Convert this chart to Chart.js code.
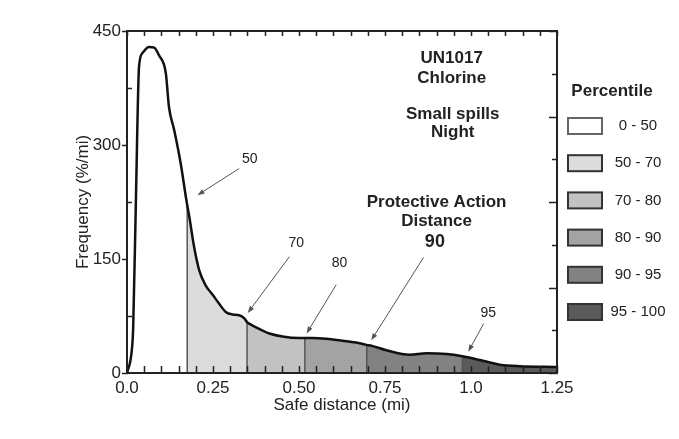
<!DOCTYPE html>
<html>
<head>
<meta charset="utf-8">
<script src="https://cdn.jsdelivr.net/npm/chart.js@4/dist/chart.umd.min.js"></script>
<style>
  body { margin: 0; background: #fff; }
  #wrap { width: 679px; height: 439px; }
</style>
</head>
<body>
<div id="wrap"><canvas id="freqChart" width="679" height="439"></canvas></div>
<script>
// distance (mi) and frequency (%/mi)
var curveX = [0, 0.013, 0.018, 0.026, 0.035, 0.045, 0.064, 0.079, 0.093, 0.113, 0.122, 0.137, 0.156, 0.171, 0.175,
    0.181, 0.195, 0.21, 0.229, 0.249, 0.268, 0.288, 0.307, 0.326, 0.341, 0.349, 0.355, 0.38, 0.414, 0.452, 0.501,
    0.517, 0.54, 0.579, 0.618, 0.666, 0.697, 0.71, 0.754, 0.822, 0.87, 0.929, 0.975, 1.026, 1.084, 1.142, 1.25];
var curveY = [0, 26, 60, 230, 403, 421, 429, 428, 418, 394, 350, 320, 276, 232, 221,
    206, 166, 135, 115, 103, 91, 80, 77, 76, 72, 67, 65, 59, 52, 48, 46,
    46, 46, 45, 43, 40, 37, 36, 30, 24, 26, 25, 22, 17, 11, 9, 8];

var percentileLabels = ["0 - 50", "50 - 70", "70 - 80", "80 - 90", "90 - 95", "95 - 100"];
var percentileBreaks = [0, 0.175, 0.349, 0.517, 0.697, 0.975, 1.25];
var bandColors = ["#ffffff", "#dcdcdc", "#c2c2c2", "#a3a3a3", "#828282", "#5a5a5a"];

var xTickLabels = ["0.0", "0.25", "0.50", "0.75", "1.0", "1.25"];

var FONT = "'Liberation Sans', Arial, sans-serif";
var TEXT = "#222";

// text notes and arrows, placed in data units (x in mi, y in %/mi)
var notes = [
    { text: "UN1017", x: 0.944, y: 414, bold: true, size: 17 },
    { text: "Chlorine", x: 0.944, y: 388, bold: true, size: 17 },
    { text: "Small spills", x: 0.947, y: 341, bold: true, size: 17 },
    { text: "Night", x: 0.947, y: 317, bold: true, size: 17 },
    { text: "Protective Action", x: 0.9, y: 224, bold: true, size: 17 },
    { text: "Distance", x: 0.9, y: 199, bold: true, size: 17 },
    { text: "90", x: 0.895, y: 172, bold: true, size: 18 },
    { text: "50", x: 0.357, y: 281, size: 14 },
    { text: "70", x: 0.492, y: 171, size: 14 },
    { text: "80", x: 0.618, y: 144, size: 14 },
    { text: "95", x: 1.05, y: 79, size: 14 }
];
var arrows = [
    [0.326, 269, 0.205, 234],
    [0.472, 153, 0.351, 79],
    [0.608, 116, 0.522, 52],
    [0.862, 152, 0.71, 43],
    [1.037, 65, 0.992, 28]
];

function pts(lo, hi) {
    var out = [];
    for (var i = 0; i < curveX.length; i++) {
        if (curveX[i] >= lo - 1e-9 && curveX[i] <= hi + 1e-9) out.push({ x: curveX[i], y: curveY[i] });
    }
    return out;
}

var datasets = [];
for (var b = 0; b < percentileLabels.length; b++) {
    datasets.push({
        label: percentileLabels[b],
        data: pts(percentileBreaks[b], percentileBreaks[b + 1]),
        backgroundColor: bandColors[b],
        borderWidth: 0,
        fill: "origin",
        pointRadius: 0,
        cubicInterpolationMode: "monotone",
        order: 3
    });
}
for (var k = 1; k < percentileBreaks.length - 1; k++) {
    var idx = curveX.indexOf(percentileBreaks[k]);
    datasets.push({
        label: "edge",
        data: [{ x: percentileBreaks[k], y: 0 }, { x: percentileBreaks[k], y: curveY[idx] }],
        borderColor: "#555",
        borderWidth: 1.5,
        fill: false,
        pointRadius: 0,
        order: 2
    });
}
datasets.push({
    label: "curve",
    data: pts(0, 1.25),
    borderColor: "#111",
    borderWidth: 2.5,
    fill: false,
    pointRadius: 0,
    cubicInterpolationMode: "monotone",
    order: 1
});

// frame with inward / outward tick marks
var framePlugin = {
    id: "frame",
    afterDatasetsDraw: function (chart) {
        var ctx = chart.ctx, a = chart.chartArea;
        var xs = chart.scales.x, ys = chart.scales.y;
        ctx.save();
        ctx.strokeStyle = "#222";
        ctx.lineWidth = 1.5;
        for (var i = 0; i <= 25; i++) {
            var px = Math.round(xs.getPixelForValue(i * 0.05)) + 0.5;
            ctx.beginPath();
            ctx.moveTo(px, a.bottom);
            ctx.lineTo(px, a.bottom - 7);
            ctx.moveTo(px, a.top);
            ctx.lineTo(px, a.top + 5);
            ctx.stroke();
        }
        for (var v = 0; v <= 450; v += 75) {
            var py = Math.round(ys.getPixelForValue(v)) + 0.5;
            ctx.beginPath();
            if (v % 150 === 0) {
                ctx.moveTo(a.left - 5, py);
                ctx.lineTo(a.left + 1, py);
            } else {
                ctx.moveTo(a.left, py);
                ctx.lineTo(a.left + 5, py);
            }
            ctx.stroke();
        }
        // right edge ticks
        for (var r = 0; r <= 8; r++) {
            var ry = Math.round(a.bottom - r * (a.bottom - a.top) / 8) + 0.5;
            ctx.beginPath();
            ctx.moveTo(a.right, ry);
            ctx.lineTo(a.right - (r % 2 === 0 ? 8 : 5), ry);
            ctx.stroke();
        }
        ctx.lineWidth = 2;
        ctx.strokeRect(a.left, a.top, a.right - a.left, a.bottom - a.top);
        ctx.restore();
    },
    afterDraw: function (chart) {
        var ctx = chart.ctx;
        var xs = chart.scales.x, ys = chart.scales.y;
        ctx.save();
        ctx.textAlign = "center";
        ctx.textBaseline = "middle";
        ctx.fillStyle = TEXT;
        notes.forEach(function (n) {
            ctx.font = (n.bold ? "bold " : "") + n.size + "px " + FONT;
            ctx.fillText(n.text, xs.getPixelForValue(n.x), ys.getPixelForValue(n.y));
        });
        ctx.strokeStyle = "#555";
        ctx.fillStyle = "#555";
        ctx.lineWidth = 1;
        arrows.forEach(function (ar) {
            var x1 = xs.getPixelForValue(ar[0]), y1 = ys.getPixelForValue(ar[1]);
            var x2 = xs.getPixelForValue(ar[2]), y2 = ys.getPixelForValue(ar[3]);
            var ang = Math.atan2(y2 - y1, x2 - x1);
            ctx.beginPath();
            ctx.moveTo(x1, y1);
            ctx.lineTo(x2 - 5 * Math.cos(ang), y2 - 5 * Math.sin(ang));
            ctx.stroke();
            ctx.beginPath();
            ctx.moveTo(x2, y2);
            ctx.lineTo(x2 - 7 * Math.cos(ang) + 2.6 * Math.sin(ang), y2 - 7 * Math.sin(ang) - 2.6 * Math.cos(ang));
            ctx.lineTo(x2 - 7 * Math.cos(ang) - 2.6 * Math.sin(ang), y2 - 7 * Math.sin(ang) + 2.6 * Math.cos(ang));
            ctx.closePath();
            ctx.fill();
        });

        // percentile legend
        ctx.fillStyle = TEXT;
        ctx.font = "bold 17px " + FONT;
        ctx.fillText("Percentile", 612, 91);
        ctx.font = "15px " + FONT;
        for (var i = 0; i < percentileLabels.length; i++) {
            var cy = 126 + i * 37.2;
            ctx.fillStyle = chart.data.datasets[i].backgroundColor;
            ctx.fillRect(568, cy - 8, 34, 16);
            ctx.strokeStyle = i === 0 ? "#666" : "#333";
            ctx.lineWidth = 2;
            ctx.strokeRect(568, cy - 8, 34, 16);
            ctx.fillStyle = TEXT;
            ctx.fillText(chart.data.datasets[i].label, 638, cy);
        }
        ctx.restore();
    }
};

var chartCanvas = document.getElementById("freqChart");
var freqChart = new Chart(chartCanvas, {
    type: "line",
    data: { datasets: datasets },
    options: {
        responsive: false,
        animation: false,
        layout: { padding: { top: 31, right: 122, left: 0, bottom: 0 } },
        plugins: {
            legend: { display: false },
            tooltip: { enabled: false }
        },
        scales: {
            x: {
                type: "linear",
                min: 0,
                max: 1.25,
                grid: { display: false, drawTicks: false },
                border: { display: false },
                ticks: {
                    stepSize: 0.25,
                    autoSkip: false,
                    maxRotation: 0,
                    padding: 5,
                    color: TEXT,
                    font: { size: 17, family: FONT },
                    callback: function (v) { return xTickLabels[Math.round(v / 0.25)]; }
                },
                title: {
                    display: true,
                    text: "Safe distance (mi)",
                    color: TEXT,
                    font: { size: 17, family: FONT },
                    padding: { top: 0, bottom: 23 }
                },
                afterFit: function (s) { s.height = 66; }
            },
            y: {
                min: 0,
                max: 450,
                grid: { display: false, drawTicks: false },
                border: { display: false },
                ticks: {
                    stepSize: 150,
                    padding: 6,
                    color: TEXT,
                    font: { size: 17, family: FONT }
                },
                title: {
                    display: true,
                    text: "Frequency (%/mi)",
                    color: TEXT,
                    font: { size: 17, family: FONT },
                    padding: { top: 73, bottom: 0 }
                },
                afterFit: function (s) { s.width = 127; }
            }
        }
    },
    plugins: [framePlugin]
});
</script>
</body>
</html>
